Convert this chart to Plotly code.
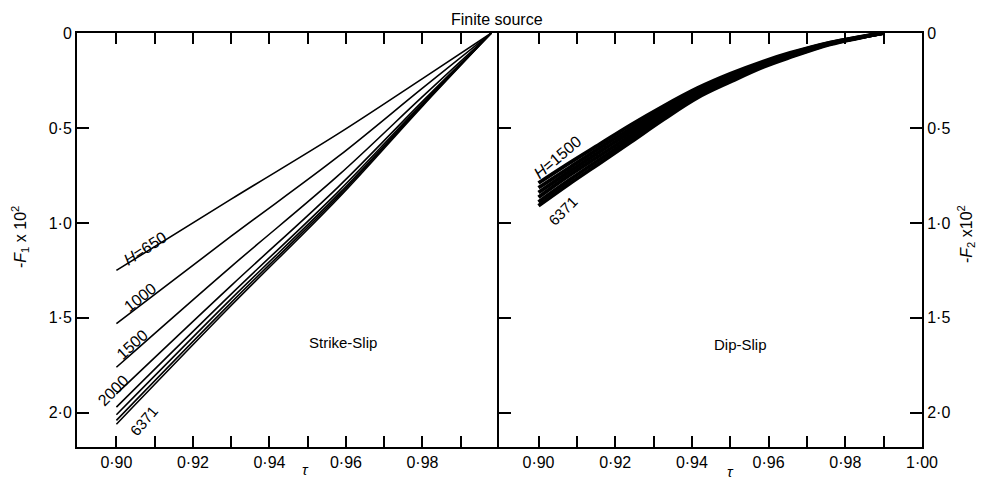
import plotly.graph_objects as go

# ---------------- data ----------------
tau_ss = [0.90, 0.93, 0.958, 0.98, 0.998]
H_ss = ["650", "1000", "1500", "2000", "3000", "4000", "5000", "6371"]
F1_ss = [
    [1.25, 0.875, 0.53, 0.24, 0.0],
    [1.53, 1.07, 0.65, 0.29, 0.0],
    [1.76, 1.23, 0.75, 0.335, 0.0],
    [1.90, 1.33, 0.81, 0.36, 0.0],
    [1.97, 1.375, 0.835, 0.37, 0.0],
    [2.01, 1.40, 0.85, 0.375, 0.0],
    [2.04, 1.42, 0.86, 0.38, 0.0],
    [2.06, 1.435, 0.87, 0.385, 0.0],
]

tau_ds = [0.90, 0.908, 0.916, 0.924, 0.9326, 0.9415, 0.95, 0.9586, 0.9656, 0.976, 0.9846, 0.99]
H_ds = ["1500", "2000", "3000", "4000", "5000", "6371"]
F2_ds = [
    [0.79, 0.685, 0.585, 0.485, 0.385, 0.29, 0.215, 0.15, 0.105, 0.05, 0.018, 0.0],
    [0.815, 0.71, 0.605, 0.505, 0.40, 0.30, 0.222, 0.156, 0.109, 0.052, 0.019, 0.0],
    [0.84, 0.73, 0.625, 0.522, 0.414, 0.311, 0.231, 0.162, 0.114, 0.054, 0.020, 0.0],
    [0.865, 0.75, 0.645, 0.54, 0.428, 0.321, 0.24, 0.168, 0.119, 0.056, 0.021, 0.0],
    [0.89, 0.775, 0.665, 0.558, 0.442, 0.331, 0.249, 0.174, 0.124, 0.058, 0.021, 0.0],
    [0.91, 0.795, 0.685, 0.575, 0.455, 0.34, 0.257, 0.179, 0.128, 0.06, 0.022, 0.0],
]

x_ticks = [0.90, 0.91, 0.92, 0.93, 0.94, 0.95, 0.96, 0.97, 0.98, 0.99, 1.00]
x_text_left = ["0·90", "", "0·92", "", "0·94", "", "0·96", "", "0·98", "", ""]
x_text_right = ["0·90", "", "0·92", "", "0·94", "", "0·96", "", "0·98", "", "1·00"]
y_ticks = [0, 0.5, 1.0, 1.5, 2.0]
y_text = ["0", "0·5", "1·0", "1·5", "2·0"]

FONT = "Liberation Sans"

fig = go.Figure()
for h, vals in zip(H_ss, F1_ss):
    fig.add_trace(go.Scatter(x=tau_ss, y=vals, mode="lines", xaxis="x", yaxis="y",
                             line=dict(color="black", width=1.6, shape="spline", smoothing=1.0),
                             name="H=" + h, showlegend=False, hoverinfo="skip"))
for h, vals in zip(H_ds, F2_ds):
    fig.add_trace(go.Scatter(x=tau_ds, y=vals, mode="lines", xaxis="x2", yaxis="y2",
                             line=dict(color="black", width=3.8, shape="spline", smoothing=1.0),
                             name="H=" + h, showlegend=False, hoverinfo="skip"))

xrange = [0.8897, 1.0]
yrange = [2.18, 0]
ydom = [1 - 447 / 483, 1 - 33 / 483]
common_x = dict(range=xrange, tickvals=x_ticks, ticks="inside", ticklen=11, tickwidth=1.5,
                tickcolor="black", showline=True, linecolor="black", linewidth=2,
                mirror="allticks", showgrid=False, zeroline=False, automargin=False,
                tickfont=dict(family=FONT, size=16, color="black"))
fig.update_layout(
    width=981, height=483,
    margin=dict(l=0, r=0, t=0, b=0, autoexpand=False),
    paper_bgcolor="white", plot_bgcolor="white",
    xaxis=dict(domain=[77 / 981, 499 / 981], ticktext=x_text_left, anchor="y", **common_x),
    xaxis2=dict(domain=[499 / 981, 922 / 981], ticktext=x_text_right, anchor="y2", **common_x),
    yaxis=dict(domain=ydom, range=yrange, tickvals=y_ticks, ticktext=y_text, ticks="inside",
               ticklen=12, tickwidth=1.5, tickcolor="black", showline=True, linecolor="black",
               linewidth=2, mirror=False, showgrid=False, zeroline=False, anchor="x",
               automargin=False, tickfont=dict(family=FONT, size=16, color="black")),
    yaxis2=dict(domain=ydom, range=yrange, tickvals=y_ticks, ticktext=y_text, ticks="inside",
                ticklen=12, tickwidth=1.5, tickcolor="black", showline=True, linecolor="black",
                linewidth=2, mirror="allticks", side="right", showgrid=False, zeroline=False,
                anchor="x2", automargin=False,
                tickfont=dict(family=FONT, size=16, color="black")),
)

W, Hh = 981, 483
def px(xp, yp, text, size=16, angle=0):
    fig.add_annotation(text=text, x=xp / W, y=1 - yp / Hh, xref="paper", yref="paper",
                       showarrow=False, textangle=angle,
                       font=dict(family=FONT, size=size, color="black"),
                       xanchor="center", yanchor="middle")

px(497, 19, "Finite source", size=16)
px(20, 237, "-<i>F</i><sub>1</sub> x 10<sup>2</sup>", size=16, angle=-90)
px(966, 234, "-<i>F</i><sub>2</sub> x10<sup>2</sup>", size=16, angle=-90)
px(305, 469, "<i>τ</i>", size=15)
px(730, 471, "<i>τ</i>", size=15)
px(343, 342, "Strike-Slip", size=15)
px(740, 344, "Dip-Slip", size=15)

# curve labels
px(145, 248, "<i>H</i>=650", size=16, angle=-33)
px(140, 297, "1000", size=16, angle=-38)
px(132, 344, "1500", size=16, angle=-42)
px(113, 390, "2000", size=16, angle=-45)
px(143, 421, "6371", size=15, angle=-50)
px(557, 157, "<i>H</i>=1500", size=16, angle=-40)
px(562, 211, "6371", size=15, angle=-45)

fig.write_html("out.html")
